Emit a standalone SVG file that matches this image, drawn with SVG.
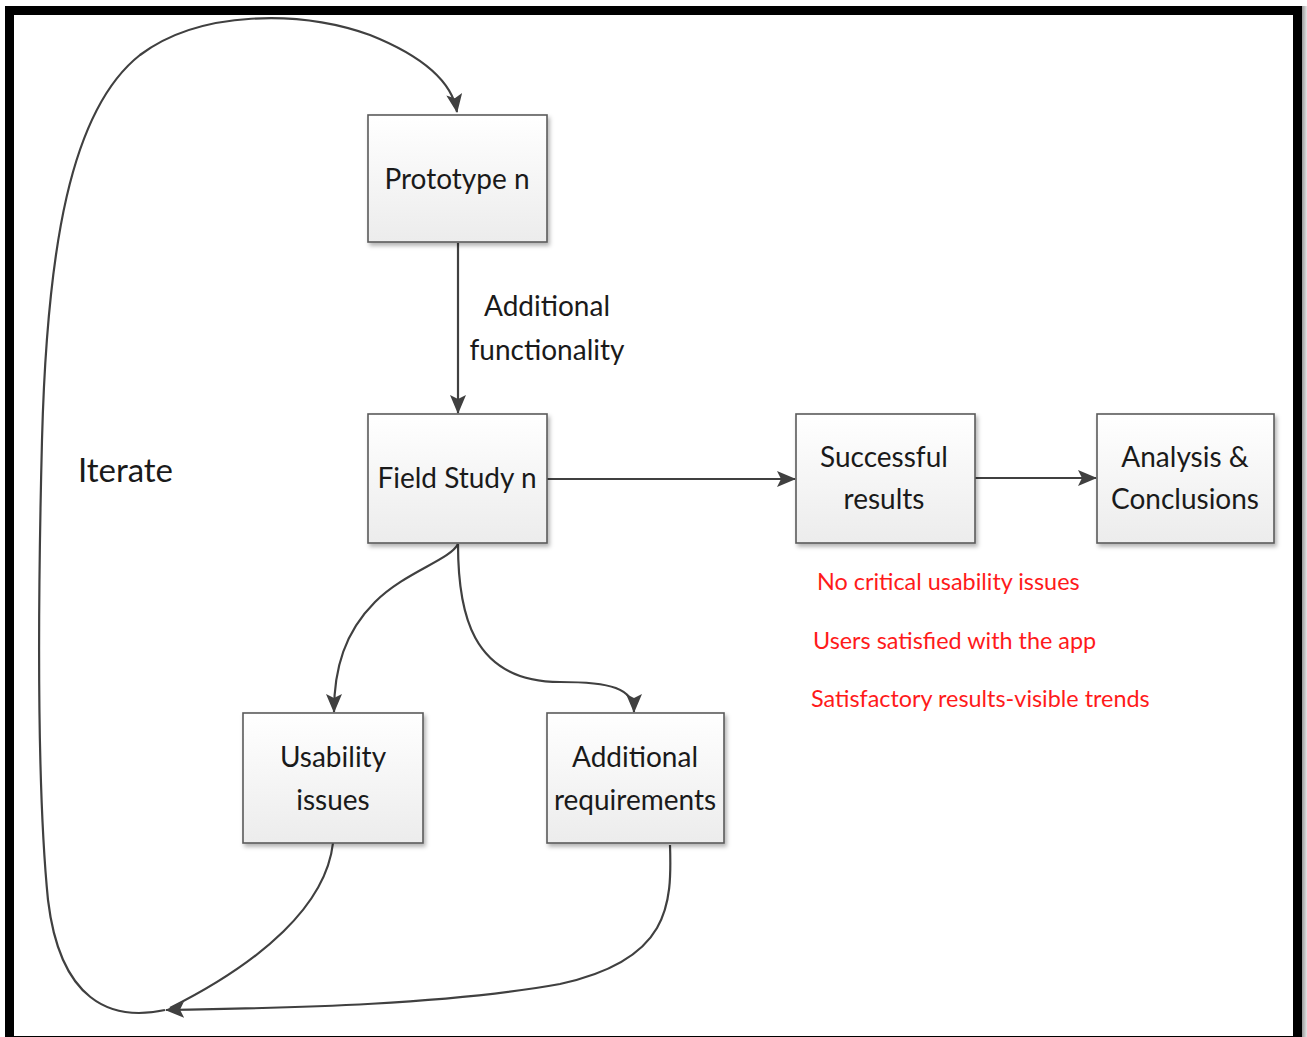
<svg xmlns="http://www.w3.org/2000/svg" width="1307" height="1037" viewBox="0 0 1307 1037">
  <defs>
    <linearGradient id="boxFill" x1="0" y1="0" x2="0" y2="1">
      <stop offset="0" stop-color="#ffffff"/>
      <stop offset="1" stop-color="#ececec"/>
    </linearGradient>
    <linearGradient id="edgeShade" x1="0" y1="0" x2="1" y2="0">
      <stop offset="0" stop-color="#8a8a8a"/>
      <stop offset="1" stop-color="#e6e6e6"/>
    </linearGradient>
    <filter id="boxShadow" x="-10%" y="-10%" width="125%" height="125%">
      <feDropShadow dx="2" dy="3" stdDeviation="2" flood-color="#000" flood-opacity="0.3"/>
    </filter>
    <marker id="arrow" viewBox="0 0 19 16" refX="18" refY="8" markerWidth="19" markerHeight="16" markerUnits="userSpaceOnUse" orient="auto">
      <path d="M0,0 L19,8 L0,16 L4,8 Z" fill="#404040"/>
    </marker>
    <style>
      .box { fill: url(#boxFill); stroke: #5a5a5a; stroke-width: 1.6; filter: url(#boxShadow); }
      .lbl { font-family: Lato, "Open Sans", "Liberation Sans", sans-serif; font-size: 28px; fill: #1a1a1a; text-anchor: middle; }
      .big { font-family: Lato, "Open Sans", "Liberation Sans", sans-serif; font-size: 33px; fill: #1a1a1a; }
      .note { font-family: Lato, "Open Sans", "Liberation Sans", sans-serif; font-size: 23.4px; fill: #ff1a1a; }
      .edge { fill: none; stroke: #404040; stroke-width: 2.2; }
      .arr { marker-end: url(#arrow); }
    </style>
  </defs>

  <rect width="1307" height="1037" fill="#ffffff"/>
  <!-- outer frame with a soft edge on the right -->
  <rect x="1301" y="6" width="6" height="1031" fill="url(#edgeShade)"/>
  <rect x="9.5" y="10.5" width="1288" height="1030" fill="none" stroke="#000" stroke-width="9"/>

  <!-- connectors -->
  <g id="connectors">
    <path class="edge arr" d="M458,243 L458,413"/>
    <path class="edge arr" d="M547,479 L795,479"/>
    <path class="edge arr" d="M975,478 L1096,478"/>
    <path class="edge arr" d="M458,544 C450,560 405,572 375,602 C345,632 334,668 334,712"/>
    <path class="edge arr" d="M458,544 C458,610 470,682 560,682 C610,682 634,688 634,712"/>
    <path class="edge" d="M333,843 C326,905 262,962 170,1008"/>
    <path class="edge arr" d="M670,845 C672,905 670,960 560,984 C450,1004 300,1008 166,1010"/>
    <path class="edge arr" d="M165,1010 C110,1022 60,1000 48,900 C36,780 38,600 42,440 C47,250 70,110 140,55 C200,10 300,10 370,35 C420,55 452,80 457,112"/>
  </g>

  <text class="lbl" x="547" y="316">Additional</text>
  <text class="lbl" x="547" y="360">functionality</text>
  <text class="big" x="78" y="482">Iterate</text>

  <g id="prototype">
    <rect class="box" x="368" y="115" width="179" height="127"/>
    <text class="lbl" x="457" y="189">Prototype n</text>
  </g>
  <g id="field-study">
    <rect class="box" x="368" y="414" width="179" height="129"/>
    <text class="lbl" x="457" y="488">Field Study n</text>
  </g>
  <g id="successful-results">
    <rect class="box" x="796" y="414" width="179" height="129"/>
    <text class="lbl" x="884" y="467">Successful</text>
    <text class="lbl" x="884" y="509">results</text>
  </g>
  <g id="analysis">
    <rect class="box" x="1097" y="414" width="177" height="129"/>
    <text class="lbl" x="1185" y="467">Analysis &amp;</text>
    <text class="lbl" x="1185" y="509">Conclusions</text>
  </g>
  <g id="usability-issues">
    <rect class="box" x="243" y="713" width="180" height="130"/>
    <text class="lbl" x="333" y="767">Usability</text>
    <text class="lbl" x="333" y="810">issues</text>
  </g>
  <g id="additional-requirements">
    <rect class="box" x="547" y="713" width="177" height="130"/>
    <text class="lbl" x="635" y="767">Additional</text>
    <text class="lbl" x="635" y="810">requirements</text>
  </g>

  <g id="success-criteria">
    <text class="note" x="817" y="590">No critical usability issues</text>
    <text class="note" x="813" y="649">Users satisfied with the app</text>
    <text class="note" x="811" y="707">Satisfactory results-visible trends</text>
  </g>
</svg>
